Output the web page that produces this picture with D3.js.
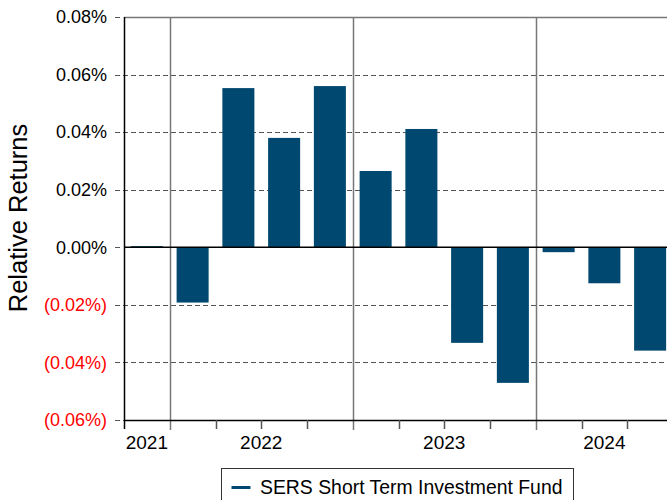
<!DOCTYPE html>
<html>
<head>
<meta charset="utf-8">
<script src="https://cdn.jsdelivr.net/npm/d3@7/dist/d3.min.js"></script>
<style>
  html, body { margin: 0; padding: 0; background: #fff; }
  svg { display: block; font-family: "Liberation Sans", Arial, sans-serif; }
</style>
</head>
<body>
<svg id="chart" width="667" height="500"></svg>
<script>
// Quarterly relative returns (%), Q4 2021 through Q3 2024
const quarters = ["2021Q4", "2022Q1", "2022Q2", "2022Q3", "2022Q4",
                  "2023Q1", "2023Q2", "2023Q3", "2023Q4",
                  "2024Q1", "2024Q2", "2024Q3"];
const relativeReturns = [0.0004, -0.0192, 0.0553, 0.0380, 0.0560,
                         0.0265, 0.0411, -0.0332, -0.0471,
                         -0.0017, -0.0125, -0.0359];
const years = ["2021", "2022", "2023", "2024"];
const yTicks = [-0.06, -0.04, -0.02, 0, 0.02, 0.04, 0.06, 0.08];
const seriesName = "SERS Short Term Investment Fund";

const svg = d3.select("#chart");
const margin = { left: 124, top: 17, right: -6, bottom: 80 };
const W = 667, H = 500;
const x0 = margin.left, x1 = W - margin.right;   // plot runs past the right edge
const y0 = margin.top, y1 = H - margin.bottom;

const barColor = "#004870";

const x = d3.scaleBand().domain(quarters).range([x0, x1]).paddingInner(0.3).paddingOuter(0.15);
const y = d3.scaleLinear().domain([-0.06, 0.08]).range([y1, y0]);

const fmt = v => {
  const s = Math.abs(v).toFixed(2) + "%";
  return v < 0 ? "(" + s + ")" : s;
};

// band boundary positions
const step = x.step();
const startX = q => x(q) - x.paddingInner() * step / 2;

// horizontal dashed gridlines (extend slightly left of the axis)
svg.append("g").selectAll("line")
  .data(yTicks.filter(v => v !== 0 && v !== 0.08))
  .join("line")
  .attr("x1", x0 - 9).attr("x2", x1)
  .attr("y1", d => Math.round(y(d)) + 0.5).attr("y2", d => Math.round(y(d)) + 0.5)
  .attr("stroke", "#555").attr("stroke-width", 1).attr("stroke-dasharray", "5,3");

// tick stubs for top, zero and bottom values
svg.append("g").selectAll("line")
  .data([-0.06, 0, 0.08])
  .join("line")
  .attr("x1", x0 - 9).attr("x2", x0 - 4)
  .attr("y1", d => Math.round(y(d)) + 0.5).attr("y2", d => Math.round(y(d)) + 0.5)
  .attr("stroke", "#555").attr("stroke-width", 1);

// top border
svg.append("line")
  .attr("x1", x0).attr("x2", x1)
  .attr("y1", y0 + 0.5).attr("y2", y0 + 0.5)
  .attr("stroke", "#777").attr("stroke-width", 1.5);

// year separators
const yearStarts = quarters.filter(q => q.endsWith("Q1"));
svg.append("g").selectAll("line")
  .data(yearStarts)
  .join("line")
  .attr("x1", d => Math.round(startX(d)) + 0.5).attr("x2", d => Math.round(startX(d)) + 0.5)
  .attr("y1", y0).attr("y2", y1 + 10)
  .attr("stroke", "#777").attr("stroke-width", 1.5);

// bars
svg.append("g").selectAll("rect")
  .data(quarters.map((q, i) => ({ q, v: relativeReturns[i] })))
  .join("rect")
  .attr("x", d => x(d.q))
  .attr("width", x.bandwidth())
  .attr("y", d => y(Math.max(0, d.v)))
  .attr("height", d => Math.abs(y(d.v) - y(0)))
  .attr("fill", barColor);

// zero line
svg.append("line")
  .attr("x1", x0).attr("x2", x1)
  .attr("y1", y(0)).attr("y2", y(0))
  .attr("stroke", "#000").attr("stroke-width", 1.5);

// y axis line
svg.append("line")
  .attr("x1", x0 + 0.5).attr("x2", x0 + 0.5)
  .attr("y1", y0).attr("y2", y1 + 9)
  .attr("stroke", "#000").attr("stroke-width", 1.5);

// x axis line
svg.append("line")
  .attr("x1", x0).attr("x2", x1)
  .attr("y1", Math.round(y1) + 0.5).attr("y2", Math.round(y1) + 0.5)
  .attr("stroke", "#000").attr("stroke-width", 1.5);

// quarter ticks on bottom axis
svg.append("g").selectAll("line")
  .data(quarters.filter(q => !q.endsWith("Q1")).slice(1))
  .join("line")
  .attr("x1", d => Math.round(startX(d)) + 0.5).attr("x2", d => Math.round(startX(d)) + 0.5)
  .attr("y1", y1).attr("y2", y1 + 9)
  .attr("stroke", "#555").attr("stroke-width", 1.5);

// y tick labels
svg.append("g").selectAll("text")
  .data(yTicks)
  .join("text")
  .attr("x", x0 - 17)
  .attr("y", d => y(d))
  .attr("dy", "0.35em")
  .attr("text-anchor", "end")
  .attr("font-size", 18)
  .attr("fill", d => d < 0 ? "#ff0000" : "#000")
  .text(fmt);

// year labels centered under each year's quarters
svg.append("g").selectAll("text")
  .data(years)
  .join("text")
  .attr("x", yr => {
    const qs = quarters.filter(q => q.startsWith(yr));
    const a = startX(qs[0]);
    const b = startX(qs[qs.length - 1]) + step;
    return (a + b) / 2;
  })
  .attr("y", y1 + 29)
  .attr("text-anchor", "middle")
  .attr("font-size", 19)
  .attr("fill", "#000")
  .text(d => d);

// y axis title
svg.append("text")
  .attr("transform", `translate(27, 218) rotate(-90)`)
  .attr("text-anchor", "middle")
  .attr("font-size", 25.5)
  .attr("fill", "#000")
  .text("Relative Returns");

// legend
const lg = svg.append("g").attr("transform", "translate(221.5, 468.5)");
lg.append("rect").attr("width", 352).attr("height", 40)
  .attr("fill", "#fff").attr("stroke", "#333").attr("stroke-width", 1);
lg.append("line").attr("x1", 10).attr("x2", 29).attr("y1", 19).attr("y2", 19)
  .attr("stroke", barColor).attr("stroke-width", 3);
lg.append("text").attr("x", 38.5).attr("y", 25.5)
  .attr("font-size", 19.4).attr("fill", "#000").text(seriesName);
</script>
</body>
</html>
